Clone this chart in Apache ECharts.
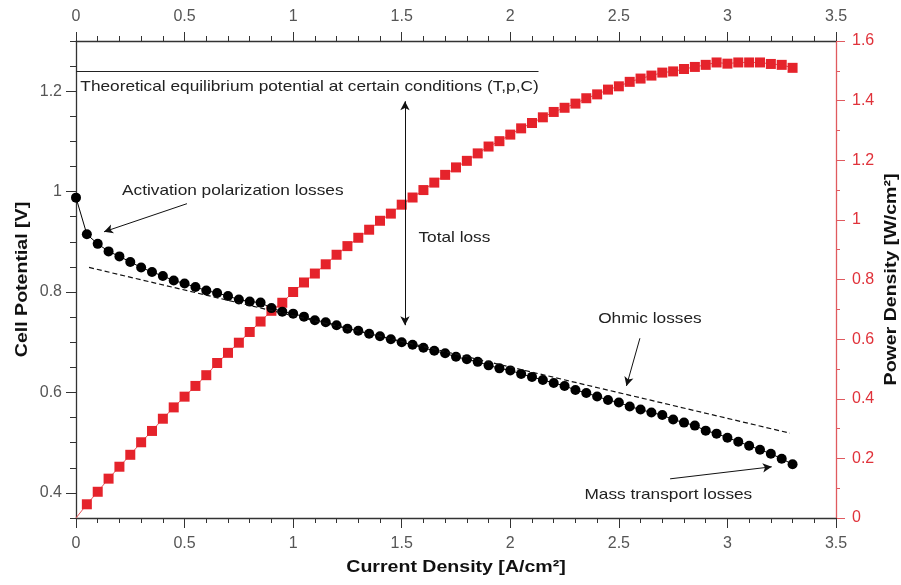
<!DOCTYPE html>
<html>
<head>
<meta charset="utf-8">
<script src="https://cdn.jsdelivr.net/npm/echarts@6/dist/echarts.min.js"></script>
<style>html,body{margin:0;padding:0;background:#fff;overflow:hidden;}#c{width:901px;height:585px;}</style>
</head>
<body>
<div id="c"></div>
<script>
const currentDensity = [0,0.05,0.10,0.15,0.20,0.25,0.30,0.35,0.40,0.45,0.50,0.55,0.60,0.65,0.70,0.75,0.80,0.85,0.90,0.95,
  1.00,1.05,1.10,1.15,1.20,1.25,1.30,1.35,1.40,1.45,1.50,1.55,1.60,1.65,1.70,1.75,1.80,1.85,1.90,1.95,
  2.00,2.05,2.10,2.15,2.20,2.25,2.30,2.35,2.40,2.45,2.50,2.55,2.60,2.65,2.70,2.75,2.80,2.85,2.90,2.95,
  3.00,3.05,3.10,3.15,3.20,3.25,3.30];
const cellPotential = [0.988,0.915,0.896,0.881,0.871,0.860,0.849,0.840,0.832,0.823,0.817,0.810,0.803,0.798,0.792,0.785,0.781,0.779,0.768,0.761,
  0.757,0.751,0.744,0.740,0.734,0.727,0.723,0.717,0.712,0.706,0.700,0.695,0.689,0.683,0.678,0.671,0.666,0.661,0.654,0.648,
  0.644,0.637,0.631,0.625,0.619,0.613,0.605,0.599,0.592,0.585,0.580,0.572,0.566,0.560,0.555,0.546,0.540,0.534,0.524,0.518,
  0.510,0.502,0.494,0.486,0.478,0.468,0.457];
const powerDensity = [0,0.046,0.088,0.132,0.172,0.212,0.254,0.292,0.333,0.371,0.407,0.443,0.479,0.520,0.554,0.588,0.624,0.659,0.695,0.722,
  0.758,0.790,0.820,0.851,0.883,0.912,0.940,0.967,0.997,1.021,1.051,1.075,1.100,1.125,1.151,1.176,1.198,1.223,1.246,1.264,
  1.286,1.307,1.325,1.344,1.362,1.376,1.390,1.408,1.421,1.437,1.448,1.463,1.474,1.484,1.494,1.498,1.506,1.513,1.520,1.528,
  1.524,1.528,1.528,1.528,1.523,1.520,1.510];

const xTicks = [0,0.5,1,1.5,2,2.5,3,3.5];
const leftTicks = [0.4,0.6,0.8,1,1.2];
const rightTicks = [0,0.2,0.4,0.6,0.8,1,1.2,1.4,1.6];

const xAxisTitle = 'Current Density [A/cm\u00b2]';
const leftAxisTitle = 'Cell Potential [V]';
const rightAxisTitle = 'Power Density [W/cm\u00b2]';

// annotations in data units (current density, cell potential)
const theoreticalLine = [[0,1.24],[2.13,1.24]];
const ohmicDashed = [[0.06,0.849],[3.288,0.519]];
const activationArrow = [[0.511,0.976],[0.129,0.920]];
const totalLossArrow = [[1.515,0.734],[1.515,1.180]];
const ohmicArrow = [[2.597,0.708],[2.535,0.613]];
const massArrow = [[2.736,0.428],[3.204,0.452]];
const annotationTexts = [
  {text:'Theoretical equilibrium potential at certain conditions (T,p,C)', at:[0.02,1.208], align:'left'},
  {text:'Activation polarization losses', at:[0.212,1.0025], align:'left'},
  {text:'Total loss', at:[1.577,0.907], align:'left'},
  {text:'Ohmic losses', at:[2.643,0.746], align:'center'},
  {text:'Mass transport losses', at:[2.728,0.397], align:'center'}
];

const FONT = '"Liberation Sans", Arial, sans-serif';
const RED = '#e5232b';
const RED_AXIS = '#e05a5f';
const LABEL_GRAY = '#555';
const STRETCH = 1.15;

const chart = echarts.init(document.getElementById('c'), null, {renderer:'canvas', width:901, height:585});

const vData = currentDensity.map((x,i)=>[x, cellPotential[i]]);
const pData = currentDensity.map((x,i)=> i===0 ? {value:[x, powerDensity[i]], symbol:'none'} : [x, powerDensity[i]]);

function seg(pair, opts){
  return [Object.assign({coord:pair[0]}, opts.start||{}), Object.assign({coord:pair[1]}, opts.end||{})];
}

const GRID = {left:76, right:65, top:41, bottom:67};

const option = {
  animation:false,
  backgroundColor:'#fff',
  textStyle:{fontFamily:FONT},
  grid:Object.assign({containLabel:false, outerBoundsMode:'none'}, GRID),
  xAxis:[
    {type:'value', position:'bottom', min:0, max:3.5, interval:0.5,
     axisLine:{show:true, onZero:false, lineStyle:{color:'#333', width:1.3}},
     axisTick:{show:true, length:10, lineStyle:{color:'#333'}},
     minorTick:{show:true, splitNumber:5, length:5, lineStyle:{color:'#333'}},
     axisLabel:{color:LABEL_GRAY, fontSize:16, margin:18, fontFamily:FONT},
     splitLine:{show:false}},
    {type:'value', position:'top', min:0, max:3.5, interval:0.5,
     axisLine:{show:true, onZero:false, lineStyle:{color:'#333', width:1.3}},
     axisTick:{show:true, length:9, lineStyle:{color:'#333'}},
     minorTick:{show:true, splitNumber:5, length:5, lineStyle:{color:'#333'}},
     axisLabel:{color:LABEL_GRAY, fontSize:16, margin:16, fontFamily:FONT},
     splitLine:{show:false}}
  ],
  yAxis:[
    {type:'value', position:'left', min:0.35, max:1.3, interval:0.05,
     axisLine:{show:true, onZero:false, lineStyle:{color:'#333', width:1.3}},
     axisTick:{show:true, length:6, lineStyle:{color:'#333'}},
     axisLabel:{customValues:leftTicks, color:LABEL_GRAY, fontSize:16, margin:14, fontFamily:FONT},
     splitLine:{show:false}},
    {type:'value', position:'right', min:0, max:1.6, interval:0.2,
     axisLine:{show:true, onZero:false, lineStyle:{color:RED_AXIS, width:1.3}},
     axisTick:{show:true, length:9, lineStyle:{color:RED_AXIS}},
     minorTick:{show:true, splitNumber:2, length:4, lineStyle:{color:RED_AXIS}},
     axisLabel:{color:'#e0323a', fontSize:16, margin:16, fontFamily:FONT},
     splitLine:{show:false}},
    {type:'value', position:'left', min:0.35, max:1.3, interval:0.05,
     axisLine:{show:false},
     axisTick:{show:true, customValues:leftTicks, length:10, lineStyle:{color:'#333'}},
     axisLabel:{show:false},
     splitLine:{show:false}}
  ],
  series:[
    {type:'line', name:'Power Density', xAxisIndex:0, yAxisIndex:1, data:pData,
     symbol:'rect', symbolSize:10, showSymbol:true,
     itemStyle:{color:RED}, lineStyle:{color:'#e8555a', width:1}, z:2},
    {type:'line', name:'Cell Potential', xAxisIndex:0, yAxisIndex:0, data:vData,
     symbol:'circle', symbolSize:10, showSymbol:true,
     itemStyle:{color:'#000'}, lineStyle:{color:'#000', width:1}, z:3,
     markLine:{silent:true, symbol:['none','arrow'], symbolSize:[7,9], precision:4,
       label:{show:false},
       lineStyle:{color:'#111', width:1, type:'solid'},
       emphasis:{disabled:true},
       data:[
         seg(theoreticalLine, {start:{symbol:'none', lineStyle:{color:'#222', width:1.2, type:'solid'}}, end:{symbol:'none'}}),
         seg(ohmicDashed, {start:{symbol:'none', lineStyle:{color:'#111', width:1.2, type:[5,3]}}, end:{symbol:'none'}}),
         seg(activationArrow, {start:{symbol:'none'}, end:{symbol:'arrow'}}),
         seg(totalLossArrow, {start:{symbol:'arrow'}, end:{symbol:'arrow'}}),
         seg(ohmicArrow, {start:{symbol:'none'}, end:{symbol:'arrow'}}),
         seg(massArrow, {start:{symbol:'none'}, end:{symbol:'arrow'}})
       ]}}
  ]
};
chart.setOption(option);

const W = 901, H = 585;
const plotL = GRID.left, plotR = W - GRID.right, plotT = GRID.top, plotB = H - GRID.bottom;
const midX = (plotL + plotR) / 2, midY = (plotT + plotB) / 2;
const titleStyle = {fill:'#111', fontSize:17, fontWeight:'bold', fontFamily:FONT, align:'center', verticalAlign:'middle'};

const graphics = annotationTexts.map(a=>{
  const p = chart.convertToPixel({xAxisIndex:0, yAxisIndex:0}, a.at);
  return {type:'text', x:p[0], y:p[1], scaleX:STRETCH, silent:true, z:10,
    style:{text:a.text, fill:'#222', fontSize:15, fontFamily:FONT, align:a.align, verticalAlign:'middle'}};
});
graphics.push({type:'text', x:midX, y:plotB + 49, scaleX:STRETCH, silent:true,
  style:Object.assign({text:xAxisTitle}, titleStyle)});
graphics.push({type:'text', x:plotL - 54, y:midY, rotation:Math.PI/2, scaleX:STRETCH, silent:true,
  style:Object.assign({text:leftAxisTitle}, titleStyle)});
graphics.push({type:'text', x:plotR + 55, y:midY, rotation:Math.PI/2, scaleX:STRETCH, silent:true,
  style:Object.assign({text:rightAxisTitle}, titleStyle)});
chart.setOption({graphic:graphics});
</script>
</body>
</html>
